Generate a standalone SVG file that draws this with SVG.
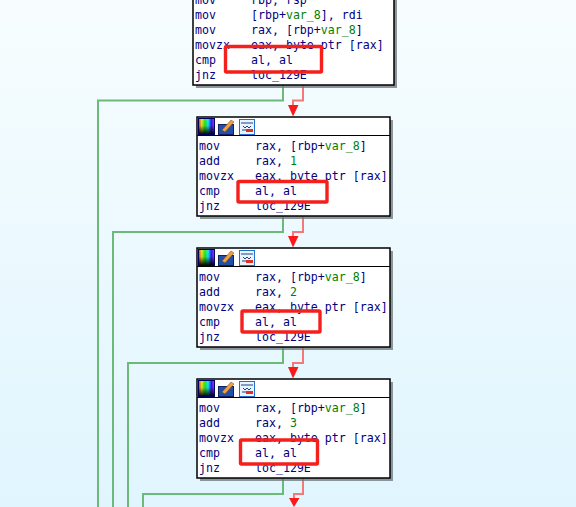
<svg xmlns="http://www.w3.org/2000/svg" width="576" height="507" viewBox="0 0 576 507">
<style>
text{font-family:"DejaVu Sans Mono","Liberation Mono",monospace;font-size:11.6px;fill:#000080;white-space:pre}
.g{fill:#008000}
.box{fill:#fff;stroke:#000;stroke-width:1.5}
.sh{fill:#6a7478;opacity:.75}
.hd{fill:none;stroke:#000;stroke-width:1}
.t{fill:none;stroke:#6db97a;stroke-width:2}
.f{fill:none;stroke:#f47a7a;stroke-width:2}
.a{fill:#fb1a1a}
.mark{fill:none;stroke:#f5201c;stroke-width:3.4;stroke-linejoin:round}
</style>
<defs>
<linearGradient id="bg" x1="0" y1="0" x2="0" y2="1"><stop offset="0" stop-color="#f7fdff"/><stop offset="1" stop-color="#e0f5fe"/></linearGradient>
<linearGradient id="rb" x1="0" y1="0" x2="1" y2="0"><stop offset="0" stop-color="#ff2020"/><stop offset=".2" stop-color="#f0f020"/><stop offset=".4" stop-color="#20f020"/><stop offset=".6" stop-color="#20f0f0"/><stop offset=".8" stop-color="#2020ff"/><stop offset="1" stop-color="#f020f0"/></linearGradient>
<linearGradient id="rk" x1="0" y1="0" x2="0" y2="1"><stop offset="0" stop-color="#000" stop-opacity="0"/><stop offset=".45" stop-color="#000" stop-opacity=".1"/><stop offset="1" stop-color="#000" stop-opacity="1"/></linearGradient>
<g id="icons">
<rect x="0.500" y="0.500" width="16" height="16" fill="url(#rb)"/>
<rect x="0.500" y="0.500" width="16" height="16" fill="url(#rk)" stroke="#000060"/>
<rect x="20.500" y="6.500" width="15" height="10" fill="#2050a8" stroke="#102060"/>
<path d="M24 12 L33 2 L36 4 L27 14 Z" fill="#f0a040" stroke="#804010" stroke-width=".5"/>
<rect x="41.500" y="1.500" width="15" height="15" fill="#e8f4ff" stroke="#2070d0"/>
<path d="M43 5H55M45 8L47 10L49 8L51 10L53 8M44 12H48" stroke="#204080" fill="none"/>
<rect x="48" y="11" width="7" height="3" fill="#e03020"/>
</g>
</defs>
<rect width="576" height="507" fill="url(#bg)"/>
<g id="connectors">
<path class="t" d="M283 85V100.500H98V507"/>
<path class="t" d="M283 216V232H113V507"/>
<path class="t" d="M283 347V363H128V507"/>
<path class="t" d="M283 478V494H143V507"/>
<path class="f" d="M303 85V100.500H293V106"/>
<path class="f" d="M303 216V232H293V237"/>
<path class="f" d="M303 347V363H293V368"/>
<path class="f" d="M303 478V494H294V499"/>
<path class="a" d="M288 105H298.500L293 116.500Z"/>
<path class="a" d="M288 236H298.500L293 247.500Z"/>
<path class="a" d="M288 367H298.500L293 378.500Z"/>
<path class="a" d="M289 498H299.500L294 507Z"/>
</g>
<g id="node1">
<rect class="sh" x="196" y="-4" width="201" height="92"/>
<rect class="box" x="193" y="-6" width="201" height="91"/>
<text x="195" y="4">mov</text><text x="251" y="4">rbp, rsp</text>
<text x="195" y="19">mov</text><text x="251" y="19">[rbp+<tspan class="g">var_8</tspan>], rdi</text>
<text x="195" y="34">mov</text><text x="251" y="34">rax, [rbp+<tspan class="g">var_8</tspan>]</text>
<text x="195" y="49">movzx</text><text x="251" y="49">eax, byte ptr [rax]</text>
<text x="195" y="64">cmp</text><text x="251" y="64">al, al</text>
<text x="195" y="79">jnz</text><text x="251" y="79">loc_129E</text>
</g>
<g id="node2">
<rect class="sh" x="200" y="120" width="193" height="99"/>
<rect class="box" x="197" y="117" width="193" height="99"/>
<path class="hd" d="M197 135.500H390"/>
<use href="#icons" x="198" y="118"/>
<text x="199" y="150">mov</text><text x="255" y="150">rax, [rbp+<tspan class="g">var_8</tspan>]</text>
<text x="199" y="165">add</text><text x="255" y="165">rax, <tspan class="g">1</tspan></text>
<text x="199" y="180">movzx</text><text x="255" y="180">eax, byte ptr [rax]</text>
<text x="199" y="195">cmp</text><text x="255" y="195">al, al</text>
<text x="199" y="210">jnz</text><text x="255" y="210">loc_129E</text>
</g>
<g id="node3">
<rect class="sh" x="200" y="251" width="193" height="99"/>
<rect class="box" x="197" y="248" width="193" height="99"/>
<path class="hd" d="M197 266.500H390"/>
<use href="#icons" x="198" y="249"/>
<text x="199" y="281">mov</text><text x="255" y="281">rax, [rbp+<tspan class="g">var_8</tspan>]</text>
<text x="199" y="296">add</text><text x="255" y="296">rax, <tspan class="g">2</tspan></text>
<text x="199" y="311">movzx</text><text x="255" y="311">eax, byte ptr [rax]</text>
<text x="199" y="326">cmp</text><text x="255" y="326">al, al</text>
<text x="199" y="341">jnz</text><text x="255" y="341">loc_129E</text>
</g>
<g id="node4">
<rect class="sh" x="200" y="382" width="193" height="99"/>
<rect class="box" x="197" y="379" width="193" height="99"/>
<path class="hd" d="M197 397.500H390"/>
<use href="#icons" x="198" y="380"/>
<text x="199" y="412">mov</text><text x="255" y="412">rax, [rbp+<tspan class="g">var_8</tspan>]</text>
<text x="199" y="427">add</text><text x="255" y="427">rax, <tspan class="g">3</tspan></text>
<text x="199" y="442">movzx</text><text x="255" y="442">eax, byte ptr [rax]</text>
<text x="199" y="457">cmp</text><text x="255" y="457">al, al</text>
<text x="199" y="472">jnz</text><text x="255" y="472">loc_129E</text>
</g>
<g id="annotations">
<rect class="mark" x="225.500" y="46.500" width="96" height="25.500" rx="1"/>
<rect class="mark" x="238" y="181.500" width="89" height="20.500" rx="1"/>
<rect class="mark" x="242" y="311" width="78" height="21" rx="1"/>
<rect class="mark" x="240.500" y="440" width="77" height="24" rx="1"/>
</g>
</svg>
